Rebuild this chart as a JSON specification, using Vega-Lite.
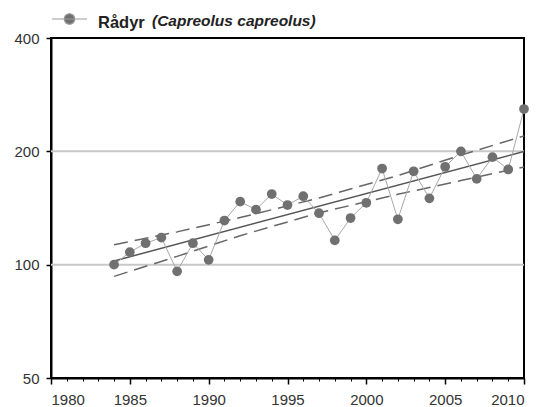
{
  "$schema": "https://vega.github.io/schema/vega-lite/v6.json",
  "width": 473,
  "height": 340,
  "autosize": "none",
  "padding": {"left": 51, "top": 38, "right": 19, "bottom": 29},
  "background": "white",
  "config": {
    "font": "Liberation Sans",
    "view": {"stroke": "black", "strokeWidth": 2}
  },
  "datasets": {
    "grid": [{"g": 100}, {"g": 200}],
    "obs": [
      {"year": 1984, "count": 100}, {"year": 1985, "count": 108}, {"year": 1986, "count": 114},
      {"year": 1987, "count": 118}, {"year": 1988, "count": 96}, {"year": 1989, "count": 114},
      {"year": 1990, "count": 103}, {"year": 1991, "count": 131}, {"year": 1992, "count": 147},
      {"year": 1993, "count": 140}, {"year": 1994, "count": 154}, {"year": 1995, "count": 144},
      {"year": 1996, "count": 152}, {"year": 1997, "count": 137}, {"year": 1998, "count": 116},
      {"year": 1999, "count": 133}, {"year": 2000, "count": 146}, {"year": 2001, "count": 180},
      {"year": 2002, "count": 132}, {"year": 2003, "count": 177}, {"year": 2004, "count": 150},
      {"year": 2005, "count": 182}, {"year": 2006, "count": 200}, {"year": 2007, "count": 169},
      {"year": 2008, "count": 193}, {"year": 2009, "count": 179}, {"year": 2010, "count": 259}
    ],
    "trend": [
      {"year": 1984, "value": 102.3, "line": "fit"},
      {"year": 2010, "value": 199.8, "line": "fit"},
      {"year": 1984, "value": 113, "line": "hi"},
      {"year": 1988, "value": 122.2, "line": "hi"},
      {"year": 1992, "value": 133.4, "line": "hi"},
      {"year": 1997, "value": 150.3, "line": "hi"},
      {"year": 2002, "value": 172.5, "line": "hi"},
      {"year": 2006, "value": 195.4, "line": "hi"},
      {"year": 2010, "value": 219.8, "line": "hi"},
      {"year": 1984, "value": 93.1, "line": "lo"},
      {"year": 1988, "value": 105.2, "line": "lo"},
      {"year": 1992, "value": 119.4, "line": "lo"},
      {"year": 1997, "value": 137.3, "line": "lo"},
      {"year": 2002, "value": 153.8, "line": "lo"},
      {"year": 2006, "value": 167.3, "line": "lo"},
      {"year": 2010, "value": 181.8, "line": "lo"}
    ]
  },
  "resolve": {"axis": {"x": "independent"}},
  "layer": [
    {
      "data": {"name": "grid"},
      "mark": {"type": "rule", "color": "#c8c8c8", "strokeWidth": 2},
      "encoding": {
        "y": {
          "field": "g", "type": "quantitative",
          "scale": {"type": "log", "domain": [50, 400], "nice": false},
          "axis": {
            "values": [50, 100, 200, 400], "format": "d", "title": null,
            "grid": false, "domainColor": "black", "domainWidth": 2,
            "tickColor": "black", "tickSize": 5, "tickWidth": 1.5,
            "labelFontSize": 15, "labelColor": "#333", "labelPadding": 7
          }
        }
      }
    },
    {
      "data": {"name": "trend"},
      "transform": [{"filter": "datum.line == 'fit'"}],
      "mark": {"type": "line", "color": "#555", "strokeWidth": 1.5},
      "encoding": {
        "x": {
          "field": "year", "type": "quantitative",
          "scale": {"domain": [1980, 2010], "nice": false, "zero": false},
          "axis": {
            "values": [1980,1981,1982,1983,1984,1985,1986,1987,1988,1989,1990,1991,1992,1993,1994,1995,1996,1997,1998,1999,2000,2001,2002,2003,2004,2005,2006,2007,2008,2009,2010],
            "orient": "bottom", "labels": false, "domain": false, "grid": false,
            "tickColor": "black", "tickSize": 3, "tickWidth": 1, "title": null
          }
        },
        "y": {"field": "value", "type": "quantitative"}
      }
    },
    {
      "data": {"name": "trend"},
      "transform": [{"filter": "datum.line != 'fit'"}],
      "mark": {"type": "line", "color": "#666", "strokeWidth": 1.5, "strokeDash": [14, 7]},
      "encoding": {
        "x": {"field": "year", "type": "quantitative", "axis": null},
        "y": {"field": "value", "type": "quantitative"},
        "detail": {"field": "line"}
      }
    },
    {
      "data": {"name": "obs"},
      "mark": {"type": "line", "color": "#a8a8a8", "strokeWidth": 1},
      "encoding": {
        "x": {
          "field": "year", "type": "quantitative",
          "axis": {
            "values": [1980, 1985, 1990, 1995, 2000, 2005, 2010], "format": "d",
            "orient": "bottom", "title": null, "grid": false,
            "domainColor": "black", "domainWidth": 2,
            "tickColor": "black", "tickSize": 6, "tickWidth": 1.5,
            "labelFontSize": 15, "labelColor": "#333", "labelPadding": 8
          }
        },
        "y": {"field": "count", "type": "quantitative"}
      }
    },
    {
      "data": {"name": "obs"},
      "mark": {"type": "point", "filled": true, "size": 95, "opacity": 1},
      "encoding": {
        "x": {"field": "year", "type": "quantitative", "axis": null},
        "y": {"field": "count", "type": "quantitative"},
        "color": {
          "datum": "Rådyr",
          "scale": {"range": ["#707070"]},
          "legend": {
            "orient": "none", "legendX": 0, "legendY": -34,
            "title": "(Capreolus capreolus)", "titleOrient": "right",
            "titleAnchor": "middle", "titleBaseline": "line-top", "titleLineHeight": 7,
            "titleFontStyle": "italic", "titleFontWeight": "bold",
            "titleFontSize": 15.5, "titleColor": "#222", "titlePadding": 7,
            "labelFontWeight": "bold", "labelFontSize": 16.5, "labelColor": "#222",
            "labelOffset": 10,
            "symbolType": "M-1,-0.2H1M-0.3,-0.2A0.3,0.3 0 1,0 0.3,-0.2A0.3,0.3 0 1,0 -0.3,-0.2",
            "symbolSize": 1225, "symbolStrokeColor": "#999999", "symbolStrokeWidth": 1.2,
            "symbolFillColor": "#707070", "padding": 0
          }
        }
      }
    }
  ]
}
